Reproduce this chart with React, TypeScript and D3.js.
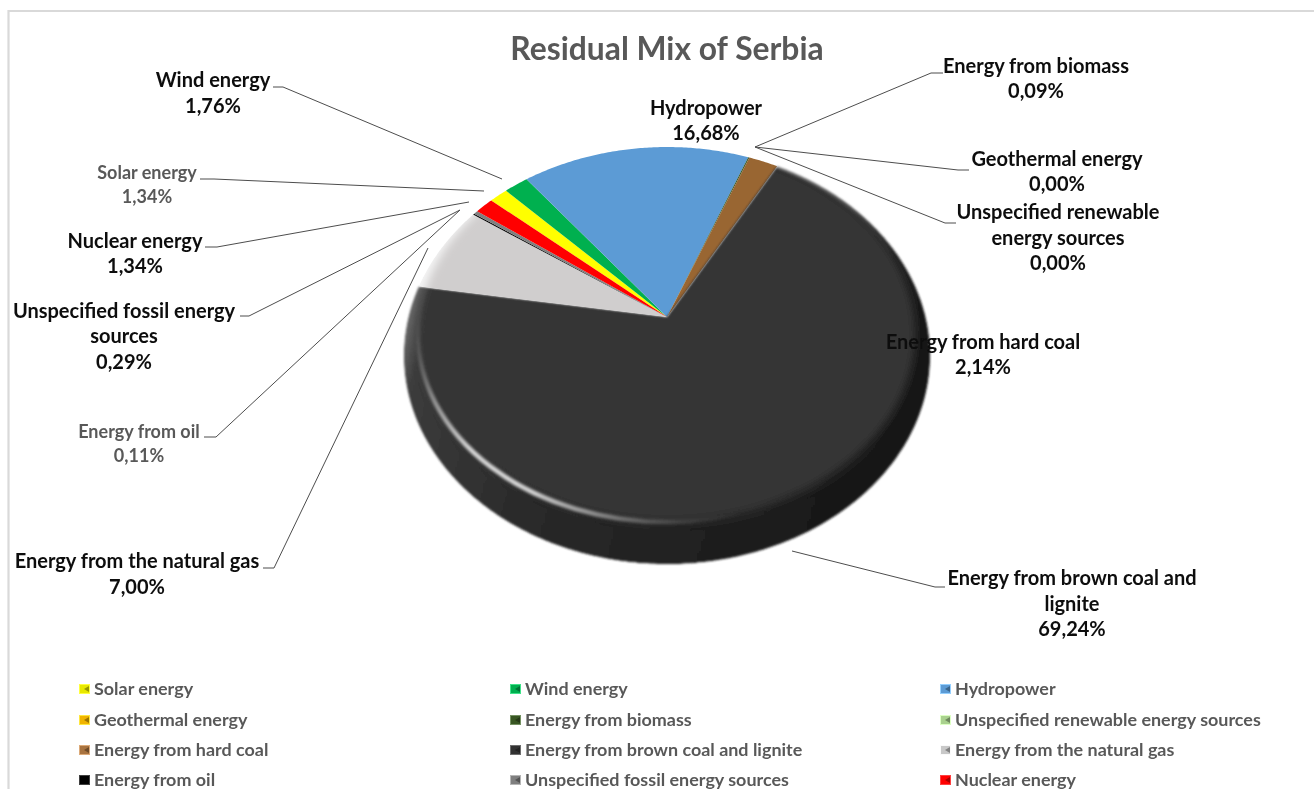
import React from "react";
import * as d3 from "d3";

const categories = ["Solar energy","Wind energy","Hydropower","Geothermal energy","Energy from biomass","Unspecified renewable energy sources","Energy from hard coal","Energy from brown coal and lignite","Energy from the natural gas","Energy from oil","Unspecified fossil energy sources","Nuclear energy"];
const shares = [1.34,1.76,16.68,0.0,0.09,0.0,2.14,69.24,7.0,0.11,0.29,1.34];
const sliceColors = ["#ffff00","#00b050","#5b9bd5","#ffc000","#385723","#a9d18e","#996633","#363636","#d0cece","#000000","#7f7f7f","#ff0000"];
const legendColors = ["#e8e800","#00b050","#5b9bd5","#f0b400","#385723","#a9d18e","#a8733f","#333333","#c8c8c8","#000000","#7f7f7f","#ff0000"];

// label layout, in the order of the categories: wrapped name lines, centre x, centre y of each line, emphasis
const labelLines = [["Solar energy"],["Wind energy"],["Hydropower"],["Geothermal energy"],["Energy from biomass"],["Unspecified renewable","energy sources"],["Energy from hard coal"],["Energy from brown coal and","lignite"],["Energy from the natural gas"],["Energy from oil"],["Unspecified fossil energy","sources"],["Nuclear energy"]];
const labelX = [147,213,706,1057,1036,1058,983,1072,137,139,124,135];
const labelY = [[172,196],[79,105],[107,132],[158,183],[65,90],[211,237,262],[341,366],[577,603,628],[560,586],[431,455],[310,335,361],[240,265]];
const labelMuted = [true,false,false,false,false,false,false,false,false,true,false,false];
const leaders: (number[][] | null)[] = [
  [[200,179],[214,179],[484,191]],
  [[273,87],[283,87],[502,179]],
  null,
  [[969,170],[958,170],[755,147]],
  [[943,73],[931,73],[755,147]],
  [[956,223],[945,223],[755,147]],
  null,
  [[945,587],[935,587],[792,551]],
  [[263,568],[274,568],[428,248]],
  [[204,437],[216,437],[460,210]],
  [[240,316],[249,316],[460,210]],
  [[205,247],[217,247],[469,202]],
];

const W = 1314, H = 789;
const apex = { x: 667, y: 317 };
const persp = -0.185, scaleU = 258.6, scaleV = 201.4;
const face = { cx: 667, cy: 334, rx: 249, ry: 188 };

const project = (a: number): [number, number] => {
  const u = Math.sin(a), v = -Math.cos(a), k = 1 + persp * v;
  return [apex.x + (scaleU * u) / k, apex.y + (scaleV * v) / k];
};
const startDeg = -49.6;
const pie = d3.pie<number>().sort(null).startAngle((startDeg * Math.PI) / 180).endAngle((startDeg * Math.PI) / 180 + 2 * Math.PI);
const arcs = pie(shares);
const line = d3.line();
const slicePath = (s: number, e: number) => {
  const n = Math.max(2, Math.ceil((e - s) / 0.01));
  const pts = d3.range(n + 1).map((i) => project(s + ((e - s) * i) / n));
  return line([[apex.x, apex.y], ...pts]) + "Z";
};
const pct = d3.formatLocale({ decimal: ",", thousands: ".", grouping: [3], currency: ["", ""] }).format(".2f");

const legendX = d3.scaleOrdinal<number, number>().domain([0, 1, 2]).range([79, 510, 940]);
const legendY = d3.scaleOrdinal<number, number>().domain([0, 1, 2, 3]).range([689, 720, 750, 780]);

const FONT = "Lato, 'Noto Sans', sans-serif";

export default function App() {
  return (
    <svg width={W} height={H} style={{ position: "absolute", left: 0, top: 0, background: "#fff", fontFamily: FONT }}>
      <defs>
        <filter id="soft" x="-5%" y="-5%" width="110%" height="110%"><feGaussianBlur stdDeviation="0.7" /></filter>
        <filter id="softDark" x="-5%" y="-5%" width="110%" height="110%"><feGaussianBlur stdDeviation="1.1" /></filter>
        <filter id="faceBlur" x="-10%" y="-10%" width="120%" height="120%"><feGaussianBlur stdDeviation="5" /></filter>
        <filter id="lineBlur" x="-10%" y="-10%" width="120%" height="120%"><feGaussianBlur stdDeviation="1.2" /></filter>
        <filter id="txt" x="-5%" y="-20%" width="110%" height="140%"><feGaussianBlur stdDeviation="0.35" /></filter>
        <linearGradient id="rimDark" gradientUnits="userSpaceOnUse" x1="404" y1="330" x2="930" y2="480">
          <stop offset="0" stopColor="#6a6a6a" />
          <stop offset="0.04" stopColor="#3c3c3c" />
          <stop offset="0.3" stopColor="#2a2a2a" />
          <stop offset="0.75" stopColor="#1c1c1c" />
          <stop offset="1" stopColor="#121212" />
        </linearGradient>
        <linearGradient id="rimLight" gradientUnits="userSpaceOnUse" x1="418" y1="320" x2="760" y2="525">
          <stop offset="0" stopColor="#555555" stopOpacity="0.5" />
          <stop offset="0.14" stopColor="#a8a8a8" />
          <stop offset="0.28" stopColor="#ffffff" />
          <stop offset="0.46" stopColor="#ffffff" />
          <stop offset="0.72" stopColor="#777777" />
          <stop offset="0.95" stopColor="#444444" stopOpacity="0" />
        </linearGradient>
        {arcs.map((a, i) => (
          <clipPath id={`clip${i}`} key={i}><path d={slicePath(a.startAngle, a.endAngle)} /></clipPath>
        ))}
      </defs>

      <path d={`M8.5,${H}V11H${W}`} fill="none" stroke="#d9d9d9" strokeWidth={2.2} />

      <text x={667} y={48} textAnchor="middle" dominantBaseline="central" fontSize={31.8} fontWeight={700} fill="#595959" filter="url(#txt)">Residual Mix of Serbia</text>

      <g filter="url(#soft)">
        {arcs.map((a, i) => {
          const d = slicePath(a.startAngle, a.endAngle);
          if (i === 7) {
            return (
              <g key={i} filter="url(#softDark)">
                <g clipPath={`url(#clip${i})`}>
                  <path d={d} fill="url(#rimDark)" />
                  <ellipse {...face} fill={sliceColors[i]} filter="url(#faceBlur)" />
                  <ellipse {...face} fill="none" stroke="url(#rimLight)" strokeWidth={3.4} filter="url(#lineBlur)" />
                </g>
              </g>
            );
          }
          if (i === 8) {
            return (
              <g key={i} clipPath={`url(#clip${i})`}>
                <path d={d} fill="#f6f6f6" />
                <ellipse {...face} fill={sliceColors[i]} filter="url(#faceBlur)" />
              </g>
            );
          }
          return <path key={i} d={d} fill={sliceColors[i]} />;
        })}
      </g>

      {leaders.map((pts, i) => pts && (
        <path key={i} d={line(pts as [number, number][]) as string} fill="none" stroke="#4d4d4d" strokeWidth={1} />
      ))}

      <g filter="url(#txt)">
        {categories.map((c, i) => {
          const rows = [...labelLines[i], `${pct(shares[i])}%`];
          return (
            <g key={c} textAnchor="middle" fontWeight={700} fontSize={labelMuted[i] ? 18 : 20} fill={labelMuted[i] ? "#595959" : "#0d0d0d"}>
              {rows.map((r, j) => (
                <text key={j} x={labelX[i]} y={labelY[i][j]} dominantBaseline="central">{r}</text>
              ))}
            </g>
          );
        })}
      </g>

      <g filter="url(#txt)">
        {categories.map((c, i) => {
          const col = i % 3, row = Math.floor(i / 3);
          const x = legendX(col), y = legendY(row);
          const base = d3.color(legendColors[i])!;
          return (
            <g key={c}>
              <rect x={x} y={y - 5} width={11} height={10} fill={base.brighter(0.6).formatHex()} opacity={0.75} />
              <rect x={x + 1} y={y - 4} width={9} height={8} fill={legendColors[i]} />
              <path d={`M${x + 10},${y - 3}L${x + 5},${y}L${x + 10},${y + 3}Z`} fill={base.darker(1.2).formatHex()} />
              <text x={x + 15} y={y - 1} dominantBaseline="central" fontSize={17.95} fontWeight={700} fill="#595959">{c}</text>
            </g>
          );
        })}
      </g>
    </svg>
  );
}
